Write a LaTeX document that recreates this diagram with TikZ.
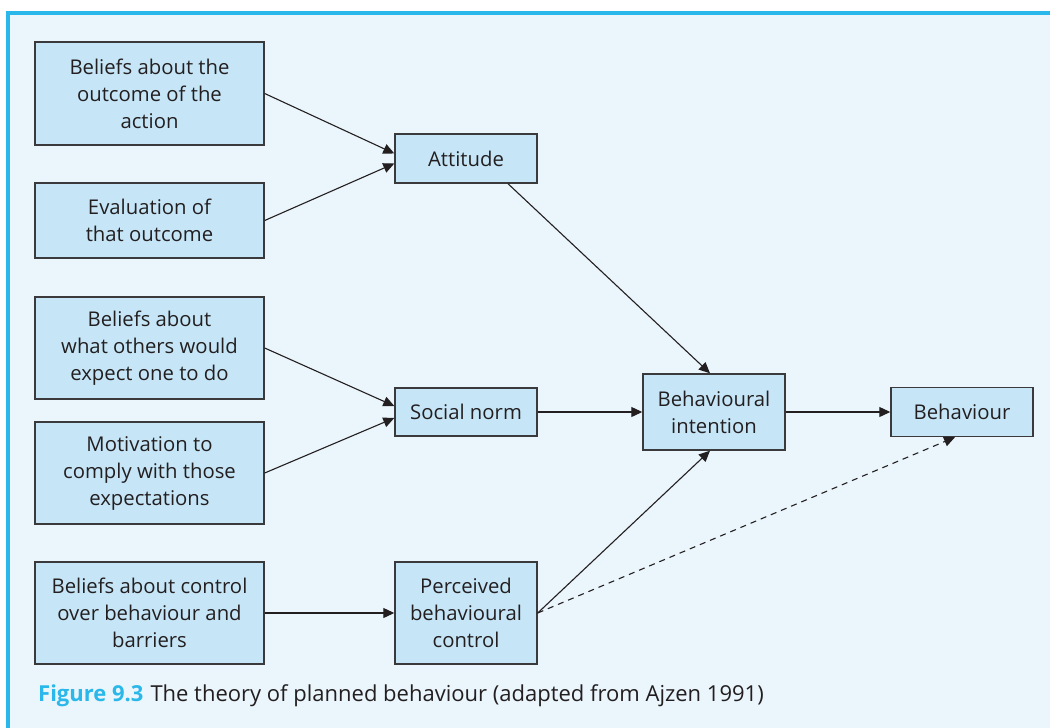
\documentclass[tikz,border=0pt]{standalone}
\usepackage{fontspec}
\setmainfont{Open Sans}
\usetikzlibrary{arrows.meta,calc}
\definecolor{framecyan}{HTML}{2AB7E9}
\definecolor{panelbg}{HTML}{EAF5FC}
\definecolor{boxfill}{HTML}{C6E6F8}
\definecolor{boxline}{HTML}{3A3A3C}
\definecolor{ink}{HTML}{231F20}
\begin{document}
\begin{tikzpicture}[x=1pt,y=-1pt,
  box/.style={draw=boxline,line width=1.4pt,fill=boxfill,align=center,
    text=ink,font=\fontsize{20.3}{27}\selectfont,inner sep=0pt},
  wide/.style={box,minimum width=229pt},
  narrow/.style={box,minimum width=142pt},
  link/.style={draw=ink,line width=1.1pt,-{Triangle[length=11pt,width=10pt]}},
  dlink/.style={link,dash pattern=on 6pt off 5pt}]
  \useasboundingbox (0,0) rectangle (1050,728);
  % panel and its cyan frame
  \fill[white] (0,0) rectangle (1050,728);
  \fill[panelbg] (8,13) rectangle (1050,728);
  \draw[framecyan,line width=4.5pt] (8,728) -- (8,13) -- (1050,13);

  % left column of beliefs
  \node[wide,minimum height=103pt] (b1) at (149.5,93.5) {Beliefs about the\\outcome of the\\action};
  \node[wide,minimum height=75pt] (b2) at (149.5,220.5) {Evaluation of\\that outcome};
  \node[wide,minimum height=102pt] (b3) at (149.5,348) {Beliefs about\\what others would\\expect one to do};
  \node[wide,minimum height=102pt] (b4) at (149.5,473) {Motivation to\\comply with those\\expectations};
  \node[wide,minimum height=102pt] (b5) at (149.5,613) {Beliefs about control\\over behaviour and\\barriers};

  % middle column
  \node[narrow,minimum height=49pt] (att) at (466,158.5) {Attitude};
  \node[narrow,minimum height=48pt] (sn) at (466,412) {Social norm};
  \node[narrow,minimum height=102pt] (pbc) at (466,613) {Perceived\\behavioural\\control};

  % right side
  \node[narrow,minimum height=76pt] (bi) at (714,412) {Behavioural\\intention};
  \node[narrow,minimum height=49pt] (beh) at (962,412) {Behaviour};

  % connectors
  \draw[link] (b1.east) -- ($(att.west)+(0,-5)$);
  \draw[link] (b2.east) -- ($(att.west)+(0,5)$);
  \draw[link] (b3.east) -- ($(sn.west)+(0,-6)$);
  \draw[link] (b4.east) -- ($(sn.west)+(0,6)$);
  \draw[link] (b5.east) -- (pbc.west);
  \draw[link] ($(att.south)+(42,0)$) -- ($(bi.north)+(-4,0)$);
  \draw[link] (sn.east) -- (bi.west);
  \draw[link] (pbc.east) -- ($(bi.south)+(-4,0)$);
  \draw[link] (bi.east) -- (beh.west);
  \draw[dlink] (pbc.east) -- ($(beh.south)+(-7,0)$);

  % caption
  \node[anchor=west,font=\fontsize{22}{26}\selectfont,text=ink,inner sep=0pt] (cap) at (38,696)
    {{\color{framecyan}\bfseries Figure 9.3}\hspace{7pt}The theory of planned behaviour (adapted from Ajzen 1991)};
\end{tikzpicture}
\end{document}
